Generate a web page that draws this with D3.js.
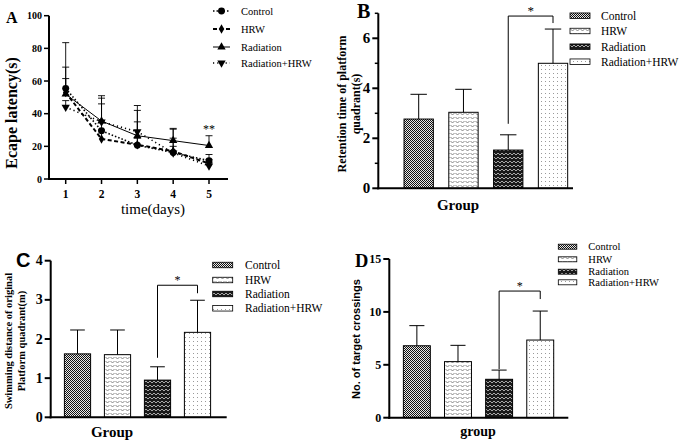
<!DOCTYPE html>
<html><head><meta charset="utf-8">
<script src="https://cdn.jsdelivr.net/npm/d3@7"></script>
<style>body{margin:0;background:#fff} svg{display:block}</style>
</head><body><svg id="c" width="685" height="445"></svg>
<script>
// ---------- DATA ----------
const groups = ["Control", "HRW", "Radiation", "Radiation+HRW"];
// Panel A: escape latency by day
const days = [1, 2, 3, 4, 5];
const latControl = [55.5, 29.5, 20.7, 16.2, 11.2];
const latControlSD = [13, 16.5, 14.3, 14.3, 3.8];
const latHRW = [53, 24.5, 21, 17, 9.5];
const latHRWSD = [8.5, 5.5, 4, 3, 2.5];
const latRad = [52, 35.5, 26.5, 23.5, 20.5];
const latRadSD = [31.5, 15.5, 15.5, 7.5, 6];
const latRadHRW = [44, 35, 29, 16, 8];
const latRadHRWSD = [4, 14.5, 16, 9, 2];
const yTicksA = [0, 20, 40, 60, 80, 100];
// Panel B: retention time
const retMean = [2.77, 3.04, 1.53, 5.0];
const retSD = [0.99, 0.92, 0.61, 1.37];
const yTicksB = [0, 2, 4, 6];
// Panel C: swimming distance
const distMean = [1.62, 1.60, 0.95, 2.17];
const distSD = [0.61, 0.63, 0.34, 0.82];
const yTicksC = [0, 1, 2, 3, 4];
// Panel D: target crossings
const crossMean = [6.8, 5.3, 3.63, 7.34];
const crossSD = [1.9, 1.54, 0.87, 2.74];
const yTicksD = [0, 5, 10, 15];

// ---------- SETUP ----------
const svg = d3.select("#c");
svg.append("rect").attr("width", 685).attr("height", 445).attr("fill", "#fff");
const SERIF = "'Liberation Serif','Times New Roman',serif";
const SANS = "'Liberation Sans',Arial,sans-serif";

const defs = svg.append("defs");
function pat(id, w, h, bg, draw) {
  const p = defs.append("pattern").attr("id", id).attr("width", w).attr("height", h)
    .attr("patternUnits", "userSpaceOnUse");
  p.append("rect").attr("width", w).attr("height", h).attr("fill", bg);
  draw(p);
}
pat("pCtrl", 2, 2, "#e8e8e8", p => {
  p.append("rect").attr("width", 1).attr("height", 1).attr("fill", "#111");
  p.append("rect").attr("x", 1).attr("y", 1).attr("width", 1).attr("height", 1).attr("fill", "#111");
});
pat("pHRW", 5, 4, "#fff", p => {
  p.append("path").attr("d", "M0.5,1 L2.5,3 L4.5,1").attr("fill", "none").attr("stroke", "#777").attr("stroke-width", 0.9);
});
pat("pRad", 4, 4, "#1a1a1a", p => {
  p.append("path").attr("d", "M0,3 L2,1 L4,3").attr("fill", "none").attr("stroke", "#ccc").attr("stroke-width", 0.8);
});
pat("pRH", 4, 4, "#fff", p => {
  p.append("rect").attr("x", 1).attr("y", 1).attr("width", 1).attr("height", 1).attr("fill", "#999");
});
const fills = ["url(#pCtrl)", "url(#pHRW)", "url(#pRad)", "url(#pRH)"];

function txt(x, y, s, size, opts = {}) {
  const t = svg.append("text").attr("x", x).attr("y", y).text(s)
    .attr("font-family", opts.family || SERIF).attr("font-size", size)
    .attr("font-weight", opts.bold ? "bold" : "normal")
    .attr("text-anchor", opts.anchor || "start").attr("fill", "#000");
  if (opts.rotate) t.attr("transform", `rotate(-90,${x},${y})`);
  if (opts.baseline) t.attr("dominant-baseline", opts.baseline);
  return t;
}

// ---------- PANEL A ----------
(function () {
  const x = d3.scaleLinear().domain([1, 5]).range([65.7, 209]);
  const y = d3.scaleLinear().domain([0, 100]).range([179, 15.7]);
  const g = svg.append("g");
  // axes
  g.append("line").attr("x1", 49).attr("x2", 49).attr("y1", y(100)).attr("y2", y(0) + 1).attr("stroke", "#000").attr("stroke-width", 2);
  g.append("line").attr("x1", 48).attr("x2", 228).attr("y1", y(0)).attr("y2", y(0)).attr("stroke", "#000").attr("stroke-width", 2);
  yTicksA.forEach(v => {
    g.append("line").attr("x1", 44).attr("x2", 49).attr("y1", y(v)).attr("y2", y(v)).attr("stroke", "#000").attr("stroke-width", 1.5);
    txt(42, y(v), v, 10, { bold: true, anchor: "end", baseline: "central" });
  });
  days.forEach(d => {
    g.append("line").attr("x1", x(d)).attr("x2", x(d)).attr("y1", y(0)).attr("y2", y(0) + 5).attr("stroke", "#000").attr("stroke-width", 1.5);
    txt(x(d), 198, d, 11.5, { bold: true, anchor: "middle" });
  });
  txt(153, 214, "time(days)", 15, { anchor: "middle" });
  txt(17, 113, "Ecape latency(s)", 16, { bold: true, anchor: "middle", rotate: true });
  txt(6, 23, "A", 16, { bold: true });

  const series = [
    { m: latControl, sd: latControlSD, dash: "1.5,2", w: 1.6, sym: d3.symbolCircle, size: 38, rot: 0 },
    { m: latHRW, sd: latHRWSD, dash: "4,2.5", w: 2, sym: d3.symbolDiamond, size: 26, rot: 0 },
    { m: latRad, sd: latRadSD, dash: null, w: 1, sym: d3.symbolTriangle, size: 30, rot: 0 },
    { m: latRadHRW, sd: latRadHRWSD, dash: "1.2,3", w: 1.6, sym: d3.symbolTriangle, size: 30, rot: 180 }
  ];
  const line = d3.line().x((d, i) => x(days[i])).y(d => y(d));
  series.forEach(s => {
    // error bars (upper)
    s.m.forEach((v, i) => {
      const top = y(v + s.sd[i]);
      g.append("line").attr("x1", x(days[i])).attr("x2", x(days[i])).attr("y1", y(v)).attr("y2", top).attr("stroke", "#000").attr("stroke-width", 0.9);
      g.append("line").attr("x1", x(days[i]) - 3.5).attr("x2", x(days[i]) + 3.5).attr("y1", top).attr("y2", top).attr("stroke", "#000").attr("stroke-width", 0.9);
    });
    g.append("path").attr("d", line(s.m)).attr("fill", "none").attr("stroke", "#000")
      .attr("stroke-width", s.w).attr("stroke-dasharray", s.dash);
  });
  series.forEach(s => {
    s.m.forEach((v, i) => {
      g.append("path").attr("d", d3.symbol().type(s.sym).size(s.size)())
        .attr("transform", `translate(${x(days[i])},${y(v)}) rotate(${s.rot})`).attr("fill", "#000");
    });
  });
  txt(x(5), y(latRad[4] + latRadSD[4]) - 3, "**", 12, { anchor: "middle" });
  // legend
  const rows = [11, 29, 47, 63];
  series.forEach((s, i) => {
    g.append("line").attr("x1", 213).attr("x2", 230).attr("y1", rows[i]).attr("y2", rows[i])
      .attr("stroke", "#000").attr("stroke-width", s.w).attr("stroke-dasharray", s.dash);
    g.append("path").attr("d", d3.symbol().type(s.sym).size(s.size)())
      .attr("transform", `translate(221.5,${rows[i]}) rotate(${s.rot})`).attr("fill", "#000");
    txt(241, rows[i], groups[i], 10.5, { baseline: "central" });
  });
})();

// ---------- BAR PANELS ----------
function barPanel(o) {
  const g = svg.append("g");
  const x = d3.scaleBand().domain(groups).range(o.band).paddingInner(0.345).paddingOuter(0.1725);
  const y = d3.scaleLinear().domain(o.domain).range(o.yr);
  // bars
  groups.forEach((c, i) => {
    g.append("rect").attr("x", x(c)).attr("y", y(o.mean[i])).attr("width", x.bandwidth())
      .attr("height", y(0) - y(o.mean[i])).attr("fill", fills[i]).attr("stroke", "#000").attr("stroke-width", 1);
    const cx = x(c) + x.bandwidth() / 2, top = y(o.mean[i] + o.sd[i]);
    g.append("line").attr("x1", cx).attr("x2", cx).attr("y1", y(o.mean[i])).attr("y2", top).attr("stroke", "#000").attr("stroke-width", 1);
    g.append("line").attr("x1", cx - x.bandwidth() * 0.28).attr("x2", cx + x.bandwidth() * 0.28).attr("y1", top).attr("y2", top).attr("stroke", "#000").attr("stroke-width", 1);
  });
  // axes
  g.append("line").attr("x1", o.ax).attr("x2", o.ax).attr("y1", y(o.domain[1])).attr("y2", y(0) + 1).attr("stroke", "#000").attr("stroke-width", 2);
  g.append("line").attr("x1", o.ax - 1).attr("x2", o.axEnd).attr("y1", y(0)).attr("y2", y(0)).attr("stroke", "#000").attr("stroke-width", 2);
  o.ticks.forEach(v => {
    g.append("line").attr("x1", o.ax - 6).attr("x2", o.ax).attr("y1", y(v)).attr("y2", y(v)).attr("stroke", "#000").attr("stroke-width", 2);
    txt(o.ax - 8, y(v), v, o.tickSize, { bold: true, anchor: "end", baseline: "central" });
  });
  (o.minor || []).forEach(v => {
    g.append("line").attr("x1", o.ax - 3.5).attr("x2", o.ax).attr("y1", y(v)).attr("y2", y(v)).attr("stroke", "#000").attr("stroke-width", 1.5);
  });
  // significance bracket between Radiation and Radiation+HRW
  const xa = x(groups[2]) + x.bandwidth() / 2, xb = x(groups[3]) + x.bandwidth() / 2;
  const la = y(o.mean[2] + o.sd[2]) - o.br[0];
  const rb = y(o.mean[3] + o.sd[3]) - o.br[1];
  const tp = y(o.mean[3] + o.sd[3]) - o.br[2];
  g.append("path").attr("d", `M${xa},${la} V${tp} H${xb} V${rb}`).attr("fill", "none").attr("stroke", "#000").attr("stroke-width", 1);
  txt((xa + xb) / 2, tp - 1, "*", o.starSize, { anchor: "middle" });
  // legend
  o.rows.forEach((ry, i) => {
    g.append("rect").attr("x", o.lx).attr("y", ry - o.sh / 2).attr("width", o.sw).attr("height", o.sh)
      .attr("fill", fills[i]).attr("stroke", "#000").attr("stroke-width", 0.8);
    txt(o.tx, ry, groups[i], o.legSize, { baseline: "central" });
  });
  return g;
}

// Panel B
barPanel({
  band: [396.3, 575.4], domain: [0, 7], yr: [188.3, 13.3], ax: 378.3, axEnd: 573,
  mean: retMean, sd: retSD, ticks: yTicksB, minor: [1, 3, 5, 7], tickSize: 15,
  br: [11, 6, 13], starSize: 13,
  rows: [15.7, 31, 46.7, 61.7], lx: 570, sw: 20, sh: 5.5, tx: 601, legSize: 11.5
});
txt(357, 18, "B", 20, { bold: true });
txt(342, 104, "Retention time of platform", 12, { bold: true, anchor: "middle", rotate: true, baseline: "central" });
txt(355.5, 104, "quadrant(s)", 12, { bold: true, anchor: "middle", rotate: true, baseline: "central" });
txt(458, 210, "Group", 15, { bold: true, anchor: "middle" });

// Panel C
barPanel({
  band: [57.5, 217.5], domain: [0, 4], yr: [417.3, 260.7], ax: 50.7, axEnd: 226.7,
  mean: distMean, sd: distSD, ticks: yTicksC, tickSize: 14,
  br: [9, 7, 15], starSize: 12,
  rows: [265, 280, 294, 308.3], lx: 212.7, sw: 20, sh: 5.5, tx: 245, legSize: 11.5
});
txt(16, 267, "C", 20, { bold: true, family: SANS });
txt(8.5, 341, "Swimming distance of original", 10.5, { bold: true, anchor: "middle", rotate: true, baseline: "central" });
txt(21, 341, "Platform quadrant(m)", 10.5, { bold: true, anchor: "middle", rotate: true, baseline: "central" });
txt(112, 437, "Group", 15, { bold: true, anchor: "middle" });

// Panel D
barPanel({
  band: [396.3, 560.8], domain: [0, 15], yr: [417.7, 259], ax: 389.3, axEnd: 568.3,
  mean: crossMean, sd: crossSD, ticks: yTicksD, tickSize: 12,
  br: [1, 12, 20], starSize: 12,
  rows: [246.7, 259.3, 271.7, 282.3], lx: 558.3, sw: 18.5, sh: 5, tx: 588.3, legSize: 10.5
});
txt(355, 267, "D", 18.5, { bold: true });
txt(356, 339, "No. of target crossings", 11, { bold: true, anchor: "middle", rotate: true, baseline: "central", family: SANS });
txt(478, 436, "group", 14, { bold: true, anchor: "middle" });
</script></body></html>
